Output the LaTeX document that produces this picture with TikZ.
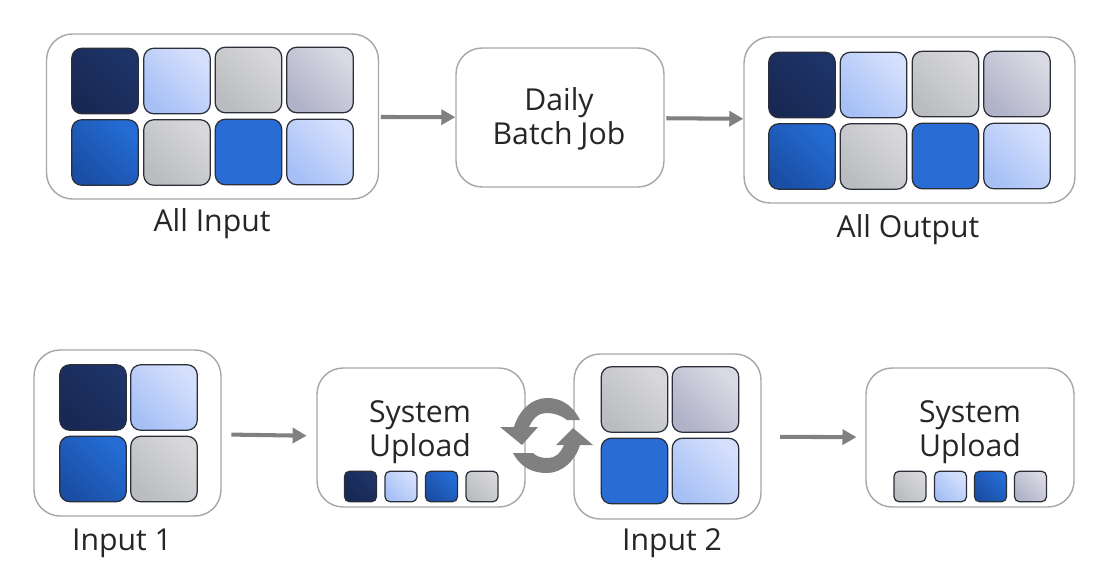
\documentclass[tikz,border=0pt]{standalone}
\usepackage{fontspec}
\setmainfont{Open Sans}
\usetikzlibrary{arrows.meta}

\definecolor{tileedge}{HTML}{2B2F3A}
\definecolor{panelline}{HTML}{A6A6A6}
\definecolor{flowgray}{HTML}{808080}
\definecolor{navylow}{RGB}{24,40,84}
\definecolor{navyhigh}{RGB}{30,52,104}
\definecolor{skylow}{RGB}{166,192,246}
\definecolor{skyhigh}{RGB}{214,224,252}
\definecolor{ashlow}{RGB}{186,188,192}
\definecolor{ashhigh}{RGB}{216,216,218}
\definecolor{slatelow}{RGB}{176,178,200}
\definecolor{slatehigh}{RGB}{218,218,228}
\definecolor{cobaltlow}{RGB}{26,78,164}
\definecolor{cobalthigh}{RGB}{36,108,212}
\definecolor{royalfill}{RGB}{40,108,212}

\tikzset{
    panel/.style = {draw = panelline, line width = 0.8pt, fill = white, rounded corners = 0.52cm, inner sep = 0pt},
    caption/.style = {font = \fontsize{17.2}{19.5}\selectfont, text = black!85, align = center, inner sep = 0pt},
    flow/.style = {draw = flowgray, line width = 2.3pt, -{Triangle[length = 8pt, width = 8.5pt]}},
    tile/.style = {draw = tileedge, line width = 0.7pt, rounded corners = 0.2cm, inner sep = 0pt},
    bigtile/.style = {tile, minimum width = 1.33cm, minimum height = 1.31cm},
    smalltile/.style = {tile, minimum width = 0.64cm, minimum height = 0.61cm, rounded corners = 0.1cm},
    navytile/.style = {left color = navylow, right color = navyhigh, shading angle = 135},
    skytile/.style = {left color = skylow, right color = skyhigh, shading angle = 135},
    ashtile/.style = {left color = ashlow, right color = ashhigh, shading angle = 135},
    slatetile/.style = {left color = slatelow, right color = slatehigh, shading angle = 135},
    cobalttile/.style = {left color = cobaltlow, right color = cobalthigh, shading angle = 135},
    royaltile/.style = {fill = royalfill}
}

\begin{document}
\begin{tikzpicture}[x = 0.02cm, y = -0.02cm]
    \useasboundingbox (0,0) rectangle (1102,567);

    % containers
    \node [panel, minimum width = 6.64cm, minimum height = 3.3cm] (allin) at (212.5,116.5) {};
    \node [panel, minimum width = 4.16cm, minimum height = 2.78cm] (batch) at (560,117.5) {};
    \node [panel, minimum width = 6.62cm, minimum height = 3.32cm] (allout) at (909.5,120) {};
    \node [panel, minimum width = 3.74cm, minimum height = 3.32cm] (inone) at (127.5,433) {};
    \node [panel, minimum width = 4.16cm, minimum height = 2.78cm] (upone) at (421,437.5) {};
    \node [panel, minimum width = 3.74cm, minimum height = 3.3cm] (intwo) at (667.5,436.5) {};
    \node [panel, minimum width = 4.16cm, minimum height = 2.78cm] (uptwo) at (970,437.5) {};

    % all input
    \node [bigtile, navytile] (ina) at (105,81) {};
    \node [bigtile, skytile] (inb) at (177,81) {};
    \node [bigtile, ashtile] (inc) at (248.5,80) {};
    \node [bigtile, slatetile] (ind) at (320,80) {};
    \node [bigtile, cobalttile] (ine) at (105,152.5) {};
    \node [bigtile, ashtile] (inf) at (177,152.5) {};
    \node [bigtile, royaltile] (ing) at (248.5,152) {};
    \node [bigtile, skytile] (inh) at (320,152) {};

    % all output
    \node [bigtile, navytile] (outa) at (802,85) {};
    \node [bigtile, skytile] (outb) at (873.5,85) {};
    \node [bigtile, ashtile] (outc) at (945.5,84) {};
    \node [bigtile, slatetile] (outd) at (1017,84) {};
    \node [bigtile, cobalttile] (oute) at (802,156.5) {};
    \node [bigtile, ashtile] (outf) at (873.5,156.5) {};
    \node [bigtile, royaltile] (outg) at (945.5,156) {};
    \node [bigtile, skytile] (outh) at (1017,156) {};

    % input 1
    \node [bigtile, navytile] (ona) at (93,397.5) {};
    \node [bigtile, skytile] (onb) at (164,397.5) {};
    \node [bigtile, cobalttile] (onc) at (93,469) {};
    \node [bigtile, ashtile] (ond) at (164,469) {};

    % input 2
    \node [bigtile, ashtile] (twa) at (634.5,399.5) {};
    \node [bigtile, slatetile] (twb) at (705.5,399.5) {};
    \node [bigtile, royaltile] (twc) at (634.5,471) {};
    \node [bigtile, skytile] (twd) at (705.5,471) {};

    % first upload
    \node [smalltile, navytile] (upa) at (360.5,486.5) {};
    \node [smalltile, skytile] (upb) at (401,486.5) {};
    \node [smalltile, cobalttile] (upc) at (441.5,486.5) {};
    \node [smalltile, ashtile] (upd) at (482,486.5) {};

    % second upload
    \node [smalltile, ashtile] (upe) at (910,486.5) {};
    \node [smalltile, skytile] (upf) at (950.5,486.5) {};
    \node [smalltile, cobalttile] (upg) at (990.5,486.5) {};
    \node [smalltile, slatetile] (uph) at (1030.5,486.5) {};

    % texts
    \node [caption] (allinlabel) at (212,223.5) {All Input};
    \node [caption] (alloutlabel) at (908,229.5) {All Output};
    \node [caption] (batchlabel) at (559,118.5) {Daily\\Batch Job};
    \node [caption] (inonelabel) at (122,543.5) {Input 1};
    \node [caption] (intwolabel) at (672,543.5) {Input 2};
    \node [caption] (uponelabel) at (420,432.5) {System\\Upload};
    \node [caption] (uptwolabel) at (970,432.5) {System\\Upload};

    % flow
    \draw [flow, shorten <= 1pt] (allin) -- (batch);
    \draw [flow, shorten <= 1pt] (batch) -- (allout);
    \draw [flow, shorten <= 5.5pt, shorten >= 5.5pt] (inone) -- (upone);
    \draw [flow, shorten <= 10.5pt, shorten >= 5pt] (intwo) -- (uptwo);

    % swap symbol
    \fill [flowgray] (580,420) .. controls (572,404) and (560,398) .. (547,398)
        .. controls (532,398) and (519,410) .. (514,427) -- (500,427) -- (522,445) -- (538,427) -- (529,427)
        .. controls (533,418) and (539,413) .. (546,413) .. controls (555,413) and (562,416) .. (567,420) -- cycle;
    \fill [flowgray] (513,453) .. controls (521,468) and (533,473) .. (547,473)
        .. controls (562,473) and (575,461) .. (580,445) -- (593,445) -- (573,428) -- (556,445) -- (564,445)
        .. controls (560,454) and (555,458) .. (548,458) .. controls (540,458) and (536,456) .. (533,453) -- cycle;
\end{tikzpicture}
\end{document}
